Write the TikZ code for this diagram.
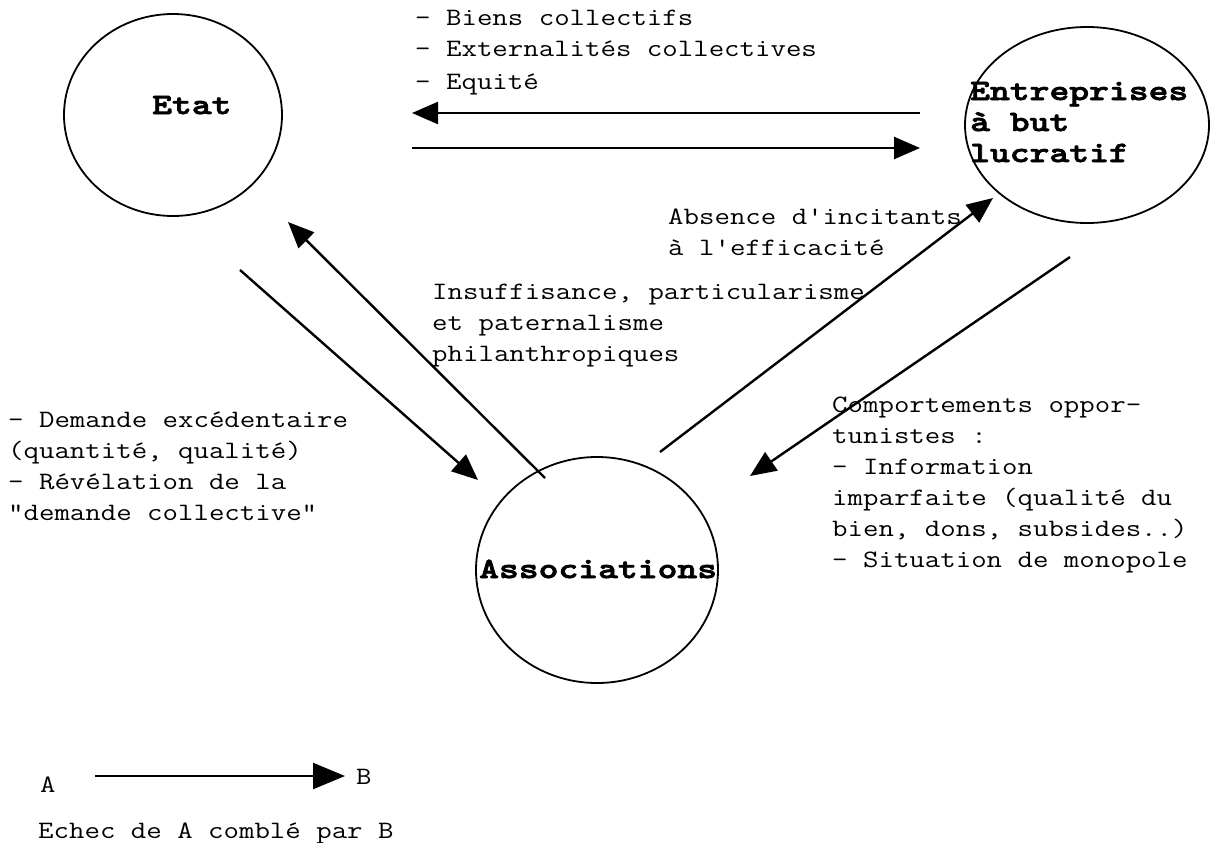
\documentclass[tikz,border=0pt]{standalone}
\usepackage{fontspec}
\newfontfamily\courier[FakeStretch=1.2]{Latin Modern Mono}
\newfontfamily\courierb[FakeStretch=1.28,FakeBold=2.5]{lmmonolt10-bold.otf}
\usetikzlibrary{shapes.geometric,arrows.meta}

\begin{document}
\begin{tikzpicture}[x=1pt,y=-1pt,
		agent/.style={draw,ellipse,line width=1.8pt,inner sep=0pt},
		flow/.style={line width=2.4pt,-{Triangle[length=26pt,width=22pt]}},
		txt/.style={anchor=base west,align=left,inner sep=0pt,font=\courier\fontsize{25}{31}\selectfont},
		lbl/.style={anchor=base west,align=left,inner sep=0pt,font=\courierb\fontsize{29.5}{31}\selectfont}]
		\useasboundingbox (0,0) rectangle (1210,843);
		% les trois agents
		\node[agent,minimum width=218pt,minimum height=202pt] (etat) at (173,115) {};
		\node[agent,minimum width=244pt,minimum height=196pt] (entr) at (1087,125) {};
		\node[agent,minimum width=242pt,minimum height=226pt] (assoc) at (597,570) {};
		\node[lbl] (etatlbl) at (152,114) {Etat};
		\node[lbl] (entrlbl) at (970,162) {Entreprises\\à but\\lucratif};
		\node[lbl] (assoclbl) at (479,578) {Associations};
		% extremites des fleches
		\coordinate (ee1) at (920,113);
		\coordinate (ee2) at (412,113);
		\coordinate (ee3) at (412,148);
		\coordinate (ee4) at (920,148);
		\coordinate (ea1) at (240,270);
		\coordinate (ea2) at (478,480);
		\coordinate (ae1) at (545,478);
		\coordinate (ae2) at (288,222);
		\coordinate (an1) at (660,452);
		\coordinate (an2) at (993,198);
		\coordinate (na1) at (1070,257);
		\coordinate (na2) at (750,476);
		\draw[flow] (ee1) -- (ee2);
		\draw[flow] (ee3) -- (ee4);
		\draw[flow] (ea1) -- (ea2);
		\draw[flow] (ae1) -- (ae2);
		\draw[flow] (an1) -- (an2);
		\draw[flow] (na1) -- (na2);
		% textes
		\node[txt,font=\courier\fontsize{25}{32}\selectfont] (biens) at (415,89) {- Biens collectifs\\- Externalités collectives\\- Equité};
		\node[txt] (absence) at (668,255) {Absence d'incitants\\à l'efficacité};
		\node[txt] (insuff) at (432,361) {Insuffisance, particularisme\\et paternalisme\\philanthropiques};
		\node[txt] (compor) at (832,567) {Comportements oppor-\\tunistes :\\- Information\\imparfaite (qualité du\\bien, dons, subsides..)\\- Situation de monopole};
		\node[txt] (demande) at (8,520) {- Demande excédentaire\\(quantité, qualité)\\- Révélation de la\\"demande collective"};
		% legende
		\node[txt] (la) at (40,792) {A};
		\node[txt] (lb) at (356,784) {B};
		\coordinate (lg1) at (95,776);
		\coordinate (lg2) at (345,776);
		\draw[line width=2.4pt,-{Triangle[length=32pt,width=26pt]}] (lg1) -- (lg2);
		\node[txt] (echec) at (38,838) {Echec de A comblé par B};
		\end{tikzpicture}
\end{document}
